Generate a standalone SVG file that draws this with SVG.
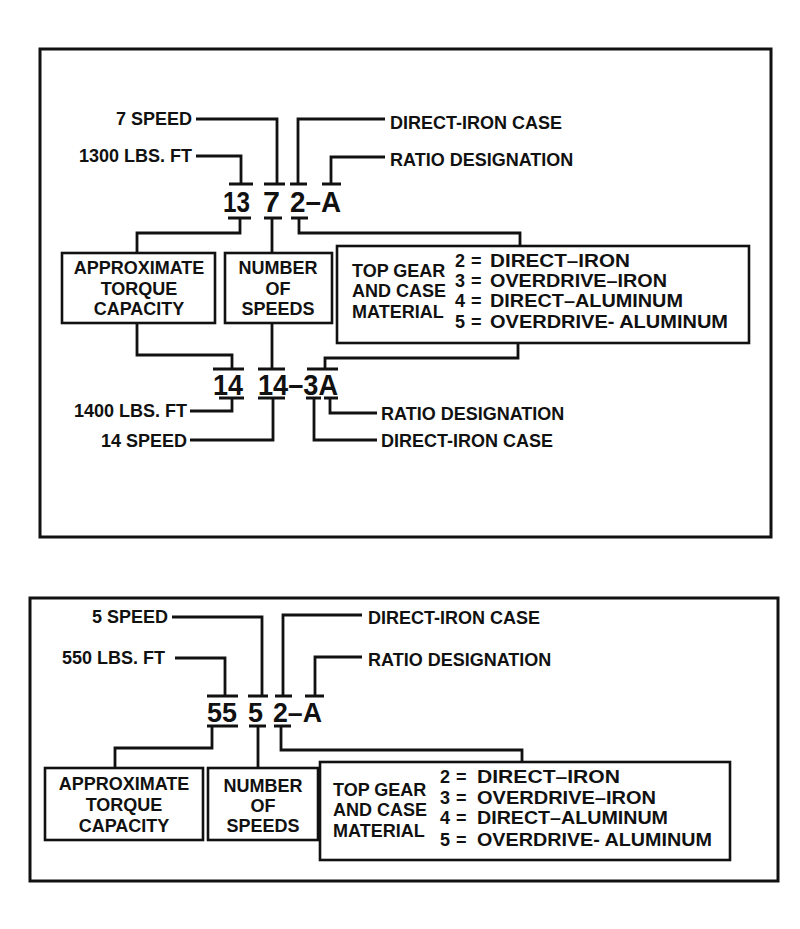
<svg xmlns="http://www.w3.org/2000/svg" width="800" height="929" viewBox="0 0 800 929">
<style>
text{font-family:"Liberation Sans",Arial,sans-serif;font-weight:bold;fill:#111}
.lbl{font-size:18px}
.code{font-size:30px}
.code2{font-size:28px}
.c{text-anchor:middle}
.r{text-anchor:end}
.frame{fill:none;stroke:#111;stroke-width:3}
.box{fill:#fff;stroke:#111;stroke-width:2.6}
#connectors path{fill:none;stroke:#111;stroke-width:2.8}
</style>
<rect width="800" height="929" fill="#fff"/>
<rect id="frame1" class="frame" x="40" y="49" width="731" height="488"/>
<rect id="frame2" class="frame" x="30" y="598" width="748" height="283"/>

<g id="connectors">
<!-- top section, upper code -->
<path d="M196 119 H277 V184 M264 184 H285"/>
<path d="M196 156 H241 V184 M229 184 H253"/>
<path d="M385 119 H298 V184 M290 184 H307"/>
<path d="M385 157 H331 V184 M322 184 H341"/>
<path d="M228 218 H251 M240 218 V233 H137 V253"/>
<path d="M264 218 H282 M272 218 V253"/>
<path d="M291 218 H308 M299 218 V233 H520 V246"/>
<!-- top section, lower code -->
<path d="M137 323 V355 H232 V369 M213 369 H244"/>
<path d="M272 323 V369 M258 369 H285"/>
<path d="M518 343 V358 H325 V369 M307 369 H338"/>
<path d="M219 398 H244 M232 398 V411 H190"/>
<path d="M258 398 H285 M273 398 V440 H190"/>
<path d="M306 398 H321 M314 398 V440 H377"/>
<path d="M324 398 H338 M330 398 V413 H377"/>
<!-- bottom section -->
<path d="M172 617 H262 V696 M248 696 H268"/>
<path d="M175 658 H225 V696 M207 696 H238"/>
<path d="M362 615 H283 V696 M275 696 H292"/>
<path d="M362 657 H315 V696 M305 696 H324"/>
<path d="M207 726 H238 M212 726 V748 H115 V768"/>
<path d="M249 726 H266 M258 726 V768"/>
<path d="M274 726 H291 M281 726 V750 H522 V762"/>
</g>

<!-- ===== Top section ===== -->
<g id="label-7speed"><text class="lbl r" x="192" y="125">7 SPEED</text></g>
<g id="label-1300"><text class="lbl r" x="192" y="162">1300 LBS. FT</text></g>
<g id="label-direct-iron-1"><text class="lbl" x="390" y="129">DIRECT-IRON CASE</text></g>
<g id="label-ratio-1"><text class="lbl" x="390" y="166">RATIO DESIGNATION</text></g>
<g id="code-1372A">
<text class="code" x="223" y="212" textLength="27" lengthAdjust="spacingAndGlyphs">13</text>
<text class="code" x="263" y="212" textLength="17" lengthAdjust="spacingAndGlyphs">7</text>
<text class="code" x="290" y="212" textLength="51" lengthAdjust="spacingAndGlyphs">2–A</text>
</g>
<g id="box-torque-1">
<rect class="box" x="62" y="253" width="153" height="70"/>
<text class="lbl c" x="139" y="274">APPROXIMATE</text>
<text class="lbl c" x="139" y="295">TORQUE</text>
<text class="lbl c" x="139" y="315">CAPACITY</text>
</g>
<g id="box-speeds-1">
<rect class="box" x="225" y="253" width="107" height="70"/>
<text class="lbl c" x="278" y="274">NUMBER</text>
<text class="lbl c" x="278" y="295">OF</text>
<text class="lbl c" x="278" y="315">SPEEDS</text>
</g>
<g id="box-material-1">
<rect class="box" x="337" y="246" width="412" height="97"/>
<text class="lbl" x="352" y="277">TOP GEAR</text>
<text class="lbl" x="352" y="297">AND CASE</text>
<text class="lbl" x="352" y="318">MATERIAL</text>
<text class="lbl" x="455" y="267">2</text><text class="lbl" x="471" y="267">=</text><text class="lbl" x="490" y="267" textLength="140" lengthAdjust="spacingAndGlyphs">DIRECT–IRON</text>
<text class="lbl" x="455" y="287">3</text><text class="lbl" x="471" y="287">=</text><text class="lbl" x="490" y="287" textLength="177" lengthAdjust="spacingAndGlyphs">OVERDRIVE–IRON</text>
<text class="lbl" x="455" y="307">4</text><text class="lbl" x="471" y="307">=</text><text class="lbl" x="490" y="307" textLength="193" lengthAdjust="spacingAndGlyphs">DIRECT–ALUMINUM</text>
<text class="lbl" x="455" y="328">5</text><text class="lbl" x="471" y="328">=</text><text class="lbl" x="490" y="328" textLength="238" lengthAdjust="spacingAndGlyphs">OVERDRIVE- ALUMINUM</text>
</g>
<g id="code-14143A">
<text class="code" x="213" y="395" textLength="30" lengthAdjust="spacingAndGlyphs">14</text>
<text class="code" x="258" y="395" textLength="80" lengthAdjust="spacingAndGlyphs">14–3A</text>
</g>
<g id="label-1400"><text class="lbl r" x="187" y="417">1400 LBS. FT</text></g>
<g id="label-14speed"><text class="lbl r" x="187" y="447">14 SPEED</text></g>
<g id="label-ratio-2"><text class="lbl" x="381" y="420">RATIO DESIGNATION</text></g>
<g id="label-direct-iron-2"><text class="lbl" x="381" y="447">DIRECT-IRON CASE</text></g>

<!-- ===== Bottom section ===== -->
<g id="label-5speed"><text class="lbl r" x="168" y="623">5 SPEED</text></g>
<g id="label-550"><text class="lbl r" x="165" y="664">550 LBS. FT</text></g>
<g id="label-direct-iron-3"><text class="lbl" x="368" y="624">DIRECT-IRON CASE</text></g>
<g id="label-ratio-3"><text class="lbl" x="368" y="666">RATIO DESIGNATION</text></g>
<g id="code-5552A">
<text class="code2" x="207" y="722" textLength="30" lengthAdjust="spacingAndGlyphs">55</text>
<text class="code2" x="248" y="722" textLength="15" lengthAdjust="spacingAndGlyphs">5</text>
<text class="code2" x="273" y="722" textLength="49" lengthAdjust="spacingAndGlyphs">2–A</text>
</g>
<g id="box-torque-2">
<rect class="box" x="45" y="768" width="158" height="72"/>
<text class="lbl c" x="124" y="790">APPROXIMATE</text>
<text class="lbl c" x="124" y="811">TORQUE</text>
<text class="lbl c" x="124" y="832">CAPACITY</text>
</g>
<g id="box-speeds-2">
<rect class="box" x="208" y="768" width="110" height="72"/>
<text class="lbl c" x="263" y="792">NUMBER</text>
<text class="lbl c" x="263" y="812">OF</text>
<text class="lbl c" x="263" y="832">SPEEDS</text>
</g>
<g id="box-material-2">
<rect class="box" x="320" y="762" width="410" height="98"/>
<text class="lbl" x="333" y="796">TOP GEAR</text>
<text class="lbl" x="333" y="816">AND CASE</text>
<text class="lbl" x="333" y="837">MATERIAL</text>
<text class="lbl" x="440" y="783">2</text><text class="lbl" x="456" y="783">=</text><text class="lbl" x="477" y="783" textLength="143" lengthAdjust="spacingAndGlyphs">DIRECT–IRON</text>
<text class="lbl" x="440" y="804">3</text><text class="lbl" x="456" y="804">=</text><text class="lbl" x="477" y="804" textLength="179" lengthAdjust="spacingAndGlyphs">OVERDRIVE–IRON</text>
<text class="lbl" x="440" y="824">4</text><text class="lbl" x="456" y="824">=</text><text class="lbl" x="477" y="824" textLength="191" lengthAdjust="spacingAndGlyphs">DIRECT–ALUMINUM</text>
<text class="lbl" x="440" y="846">5</text><text class="lbl" x="456" y="846">=</text><text class="lbl" x="477" y="846" textLength="235" lengthAdjust="spacingAndGlyphs">OVERDRIVE- ALUMINUM</text>
</g>
</svg>
